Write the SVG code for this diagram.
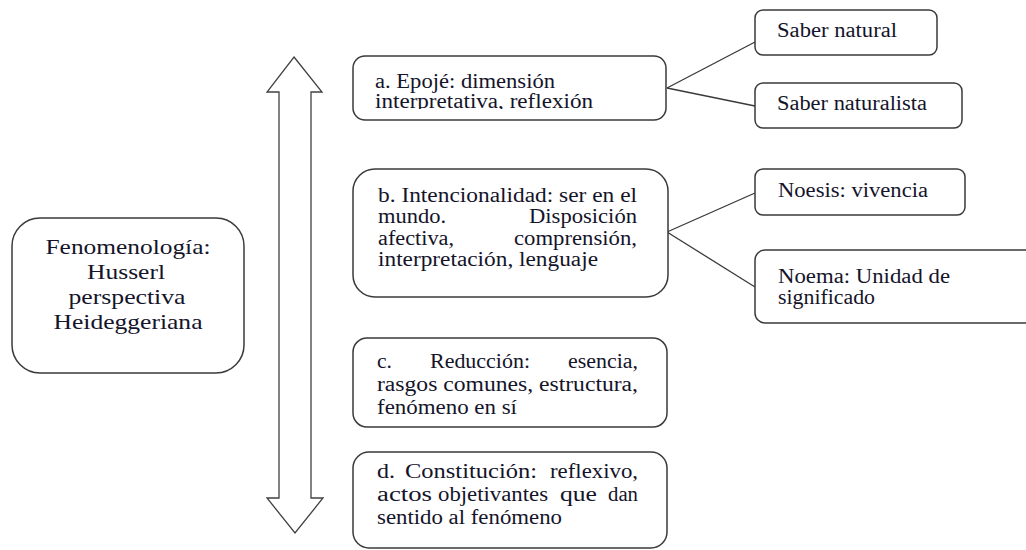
<svg xmlns="http://www.w3.org/2000/svg" width="1026" height="550" viewBox="0 0 1026 550">
<style>
.box{fill:#fff;stroke:#3a3a3a;stroke-width:1.5}
.t{font-family:"Liberation Serif","Times New Roman",serif;font-size:20.5px;fill:#14142a}
.tm{font-family:"Liberation Serif","Times New Roman",serif;font-size:22px;fill:#14142a;text-anchor:middle}
.conn line{stroke:#3a3a3a;stroke-width:1.3}
</style>
<defs>
<clipPath id="clipA"><rect x="353" y="56" width="313" height="53"/></clipPath>
</defs>
<rect width="1026" height="550" fill="#fff"/>
<g id="arrow">
<polygon points="294,57 322,92 311,92 311,498 323,498 295,533 267,498 279,498 279,92 267,92" fill="#fff" stroke="#404040" stroke-width="1.3" stroke-linejoin="miter"/>
</g>
<g class="conn" id="connectors">
<line x1="667" y1="88" x2="755" y2="42"/>
<line x1="667" y1="88" x2="755" y2="106"/>
<line x1="667" y1="232" x2="755" y2="193"/>
<line x1="667" y1="232" x2="755" y2="287"/>
</g>
<g id="main">
<rect class="box" x="12" y="218" width="232" height="155" rx="28"/>
<text class="tm" x="128" y="254" textLength="165" lengthAdjust="spacingAndGlyphs">Fenomenología:</text>
<text class="tm" x="126" y="279" textLength="78" lengthAdjust="spacingAndGlyphs">Husserl</text>
<text class="tm" x="127" y="304" textLength="117" lengthAdjust="spacingAndGlyphs">perspectiva</text>
<text class="tm" x="128" y="329" textLength="149" lengthAdjust="spacingAndGlyphs">Heideggeriana</text>
</g>
<g id="a">
<rect class="box" x="353" y="56" width="313" height="64" rx="12"/>
<g clip-path="url(#clipA)">
<text class="t" x="375" y="88" textLength="180" lengthAdjust="spacingAndGlyphs">a. Epojé: dimensión</text>
<text class="t" x="375" y="108" textLength="218" lengthAdjust="spacingAndGlyphs">interpretativa, reflexión</text>
</g>
</g>
<g id="b">
<rect class="box" x="353" y="169" width="315" height="128" rx="22"/>
<text class="t" x="378" y="202" textLength="259" lengthAdjust="spacingAndGlyphs">b. Intencionalidad: ser en el</text>
<text class="t" x="378" y="223" textLength="68" lengthAdjust="spacingAndGlyphs">mundo.</text>
<text class="t" x="529" y="223" textLength="108" lengthAdjust="spacingAndGlyphs">Disposición</text>
<text class="t" x="378" y="245" textLength="76" lengthAdjust="spacingAndGlyphs">afectiva,</text>
<text class="t" x="514" y="245" textLength="123" lengthAdjust="spacingAndGlyphs">comprensión,</text>
<text class="t" x="378" y="266" textLength="220" lengthAdjust="spacingAndGlyphs">interpretación, lenguaje</text>
</g>
<g id="c">
<rect class="box" x="353" y="338" width="314" height="89" rx="14"/>
<text class="t" x="377" y="368" textLength="15" lengthAdjust="spacingAndGlyphs">c.</text>
<text class="t" x="430" y="368" textLength="100" lengthAdjust="spacingAndGlyphs">Reducción:</text>
<text class="t" x="568" y="368" textLength="70" lengthAdjust="spacingAndGlyphs">esencia,</text>
<text class="t" x="377" y="391" textLength="261" lengthAdjust="spacingAndGlyphs">rasgos comunes, estructura,</text>
<text class="t" x="377" y="414" textLength="140" lengthAdjust="spacingAndGlyphs">fenómeno en sí</text>
</g>
<g id="d">
<rect class="box" x="353" y="452" width="314" height="96" rx="16"/>
<text class="t" x="377" y="478" textLength="18" lengthAdjust="spacingAndGlyphs">d.</text>
<text class="t" x="405" y="478" textLength="132" lengthAdjust="spacingAndGlyphs">Constitución:</text>
<text class="t" x="550" y="478" textLength="88" lengthAdjust="spacingAndGlyphs">reflexivo,</text>
<text class="t" x="377" y="501" textLength="55" lengthAdjust="spacingAndGlyphs">actos</text>
<text class="t" x="438" y="501" textLength="110" lengthAdjust="spacingAndGlyphs">objetivantes</text>
<text class="t" x="560" y="501" textLength="37" lengthAdjust="spacingAndGlyphs">que</text>
<text class="t" x="608" y="501" textLength="30" lengthAdjust="spacingAndGlyphs">dan</text>
<text class="t" x="377" y="524" textLength="185" lengthAdjust="spacingAndGlyphs">sentido al fenómeno</text>
</g>
<g id="saber-natural">
<rect class="box" x="755" y="10" width="182" height="45" rx="8"/>
<text class="t" x="777" y="37" textLength="120" lengthAdjust="spacingAndGlyphs">Saber natural</text>
</g>
<g id="saber-naturalista">
<rect class="box" x="755" y="83" width="207" height="45" rx="8"/>
<text class="t" x="777" y="110" textLength="150" lengthAdjust="spacingAndGlyphs">Saber naturalista</text>
</g>
<g id="noesis">
<rect class="box" x="755" y="169" width="210" height="46" rx="8"/>
<text class="t" x="778" y="197" textLength="150" lengthAdjust="spacingAndGlyphs">Noesis: vivencia</text>
</g>
<g id="noema">
<rect class="box" x="755" y="250" width="280" height="73" rx="10"/>
<text class="t" x="778" y="283" textLength="172" lengthAdjust="spacingAndGlyphs">Noema: Unidad de</text>
<text class="t" x="778" y="304" textLength="97" lengthAdjust="spacingAndGlyphs">significado</text>
</g>
</svg>
